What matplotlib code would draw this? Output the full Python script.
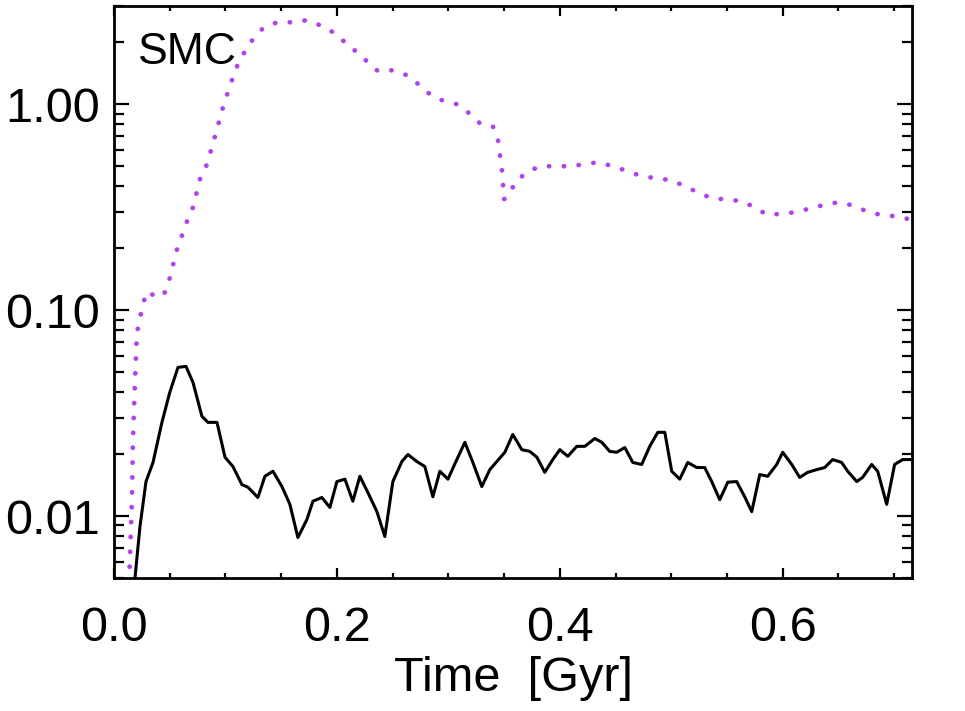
import matplotlib
matplotlib.use("Agg")
import matplotlib.pyplot as plt
from matplotlib.ticker import FixedLocator, LogLocator, MultipleLocator, NullFormatter
import numpy as np

plt.rcParams["font.family"] = ["Liberation Sans", "DejaVu Sans"]

# black solid curve
t_solid = [0.0185, 0.0233, 0.0287, 0.035, 0.043, 0.050, 0.0574, 0.0646, 0.0709,
           0.0789, 0.0843, 0.0924, 0.0996, 0.1067, 0.1148, 0.1202, 0.1291, 0.1354,
           0.1426, 0.1507, 0.1578, 0.165, 0.1731, 0.1785, 0.1865, 0.1937, 0.200,
           0.2072, 0.2143, 0.2206, 0.2278, 0.2359, 0.243, 0.2502, 0.2583, 0.2637,
           0.2717, 0.2789, 0.2861, 0.2924, 0.2996, 0.3076, 0.3148, 0.322, 0.330,
           0.3372, 0.3435, 0.3507, 0.3578, 0.3659, 0.3731, 0.3794, 0.3865, 0.3937,
           0.400, 0.4072, 0.4152, 0.4224, 0.4314, 0.4377, 0.4448, 0.4511, 0.4583,
           0.4655, 0.4735, 0.4807, 0.4879, 0.4942, 0.5004, 0.5076, 0.5148, 0.5229,
           0.530, 0.5363, 0.5435, 0.5507, 0.5587, 0.5659, 0.5722, 0.5794, 0.5865,
           0.5946, 0.600, 0.6081, 0.6152, 0.6224, 0.6305, 0.6377, 0.6448, 0.6529,
           0.6583, 0.6664, 0.6717, 0.6798, 0.6852, 0.6933, 0.7004, 0.7076, 0.7157]
f_solid = [0.0048, 0.00889, 0.0147, 0.0182, 0.0285, 0.0398, 0.0527, 0.0533, 0.0445,
           0.0305, 0.0285, 0.0285, 0.0193, 0.0174, 0.0142, 0.0138, 0.0123, 0.0156,
           0.0165, 0.0139, 0.0114, 0.00786, 0.00962, 0.0118, 0.0123, 0.0110, 0.0147,
           0.0151, 0.0118, 0.0156, 0.0130, 0.0105, 0.00795, 0.0147, 0.0184, 0.0199,
           0.0184, 0.0174, 0.0124, 0.0165, 0.0151, 0.0188, 0.0228, 0.0182, 0.0139,
           0.0168, 0.0184, 0.0204, 0.0249, 0.0210, 0.0206, 0.0193, 0.0163, 0.0188,
           0.0210, 0.0195, 0.0218, 0.0218, 0.0238, 0.0228, 0.0206, 0.0204, 0.0215,
           0.0182, 0.0178, 0.0218, 0.0255, 0.0255, 0.0165, 0.0151, 0.0182, 0.0172,
           0.0172, 0.0147, 0.0120, 0.0146, 0.0147, 0.0124, 0.0105, 0.0159, 0.0156,
           0.0178, 0.0204, 0.0178, 0.0154, 0.0163, 0.0168, 0.0172, 0.0188, 0.0182,
           0.0165, 0.0147, 0.0154, 0.0178, 0.0165, 0.0114, 0.0178, 0.0188, 0.0188]

# dotted violet curve
t_dot = [0.0135, 0.0161, 0.017, 0.0188, 0.0206, 0.0233, 0.0251, 0.0296, 0.0395,
         0.0457, 0.0502, 0.0565, 0.0655, 0.0709, 0.0771, 0.0834, 0.0906, 0.0978,
         0.1022, 0.1067, 0.1112, 0.1175, 0.1247, 0.1336, 0.1462, 0.1596, 0.1731,
         0.1848, 0.1964, 0.2072, 0.2179, 0.2278, 0.2368, 0.2502, 0.2628, 0.2744,
         0.2834, 0.2942, 0.3076, 0.3175, 0.3283, 0.3399, 0.3444, 0.3462, 0.348,
         0.3489, 0.3498, 0.3552, 0.3596, 0.3704, 0.3821, 0.3955, 0.409, 0.4224,
         0.4341, 0.4475, 0.461, 0.4735, 0.487, 0.5004, 0.5121, 0.5238, 0.5363,
         0.5498, 0.5632, 0.5749, 0.5865, 0.600, 0.6126, 0.6242, 0.6359, 0.6493,
         0.6628, 0.6753, 0.6888, 0.7022, 0.7139]
f_dot = [0.0048, 0.0120, 0.0235, 0.0450, 0.078, 0.090, 0.104, 0.123, 0.115,
         0.122, 0.144, 0.197, 0.270, 0.316, 0.432, 0.511, 0.699, 0.967,
         1.144, 1.353, 1.565, 1.81, 2.07, 2.34, 2.50, 2.50, 2.56,
         2.42, 2.24, 2.00, 1.79, 1.60, 1.447, 1.463, 1.383, 1.237,
         1.118, 1.046, 1.00, 0.915, 0.808, 0.782, 0.676, 0.571, 0.483,
         0.418, 0.345, 0.365, 0.418, 0.467, 0.500, 0.500, 0.500, 0.511,
         0.5225, 0.500, 0.4725, 0.4467, 0.437, 0.4273, 0.3995, 0.3735, 0.349,
         0.345, 0.338, 0.316, 0.289, 0.295, 0.299, 0.312, 0.323, 0.334,
         0.323, 0.302, 0.289, 0.2855, 0.276]

ytick_vals = [0.01, 0.1, 1.0]
ytick_labels = ["0.01", "0.10", "1.00"]
xtick_vals = [0.0, 0.2, 0.4, 0.6]
xtick_labels = ["0.0", "0.2", "0.4", "0.6"]

fig = plt.figure(figsize=(9.65, 7.11), dpi=100)
ax = fig.add_axes([114 / 965, 133 / 711, 798 / 965, 572 / 711])

ax.plot(t_solid, f_solid, color="black", lw=2.2, solid_joinstyle="round")
ax.plot(t_dot, f_dot, color="#B23CFF", lw=3.4, linestyle=(0, (0.05, 3.1)),
        dash_capstyle="round")

ax.set_yscale("log")
ax.set_xlim(0.0, 0.716)
ax.set_ylim(0.005, 3.0)

ax.yaxis.set_major_locator(FixedLocator(ytick_vals))
ax.set_yticklabels(ytick_labels)
ax.yaxis.set_minor_locator(LogLocator(base=10, subs=np.arange(2, 10)))
ax.yaxis.set_minor_formatter(NullFormatter())

ax.xaxis.set_major_locator(FixedLocator(xtick_vals))
ax.set_xticklabels(xtick_labels)
ax.xaxis.set_minor_locator(MultipleLocator(0.05))

for side in ax.spines.values():
    side.set_linewidth(2.0)

ax.tick_params(axis="both", which="both", direction="in", top=True, right=True,
               width=1.6, labelsize=35)
ax.tick_params(axis="y", which="major", length=11, pad=10)
ax.tick_params(axis="y", which="minor", length=7)
ax.tick_params(axis="x", which="major", length=7.5, pad=20)
ax.tick_params(axis="x", which="minor", length=3.5)

ax.set_xlabel("Time  [Gyr]", fontsize=35, labelpad=4)
ax.text(0.03, 0.955, "SMC", transform=ax.transAxes, fontsize=32,
        ha="left", va="top")

fig.savefig("out.png", dpi=100)
